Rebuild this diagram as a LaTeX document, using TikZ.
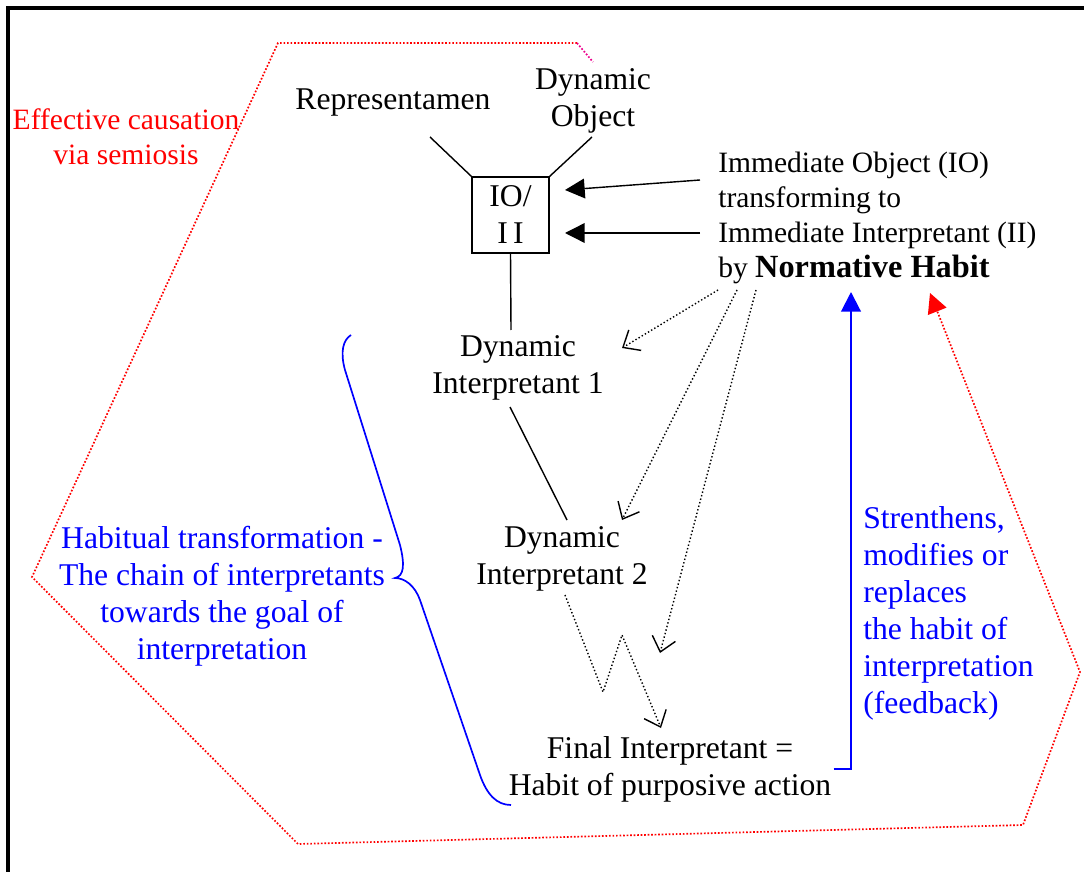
\documentclass[tikz,border=0pt]{standalone}
\usepackage{fontspec}
\setmainfont{Liberation Serif}
\usetikzlibrary{arrows.meta}

\begin{document}
\begin{tikzpicture}[x=0.025cm,y=-0.025cm,
  lbl/.style={align=center,inner sep=0pt,font=\fontsize{22.5}{26.3}\selectfont},
  small/.style={font=\fontsize{21}{25}\selectfont},
  conn/.style={line width=1pt},
  solidhead/.style={-{Triangle[length=14pt,width=14pt]}},
  openhead/.style={-{Straight Barb[length=10pt,width=17pt,line width=1pt]}},
  dots/.style={line width=1pt,dash pattern=on 1pt off 1.6pt},
  reddots/.style={red,line width=1.2pt,dash pattern=on 1.2pt off 1.3pt}]

\useasboundingbox (0,0) rectangle (1084,872);

% frame, only left and top show
\draw[line width=2.2pt] (8,872) -- (8,8) -- (1084,8);

\node[lbl,small,red] (effective) at (126,137) {Effective causation\\via semiosis};
\node[lbl] (repr) at (393,103) {Representamen};
\node[lbl] (dynobj) at (593,101) {Dynamic\\Object};
\node[lbl,draw,line width=1pt,minimum width=1.925cm,minimum height=1.9cm] (iobox) at (510.5,215) {IO/\\I\,I};
\node[lbl,small,align=left,anchor=west] (immediate) at (718,218) {Immediate Object (IO)\\transforming to\\Immediate Interpretant (II)\\by {\fontsize{23}{25}\selectfont\textbf{Normative Habit}}};
\node[lbl] (dyn1) at (518,368) {Dynamic\\Interpretant 1};
\node[lbl] (dyn2) at (562,559) {Dynamic\\Interpretant 2};
\node[lbl] (final) at (670,769) {Final Interpretant =\\Habit of purposive action};
\node[lbl,blue] (habitual) at (222,596) {Habitual transformation -\\The chain of interpretants\\towards the goal of\\interpretation};
\node[lbl,blue,align=left,anchor=west] (feedback) at (863,613) {Strenthens,\\modifies or\\replaces\\the habit of\\interpretation\\(feedback)};

% loose ends
\coordinate (reprfoot) at (430,137);
\coordinate (objfoot) at (592,137);
\coordinate (stemfoot) at (511,330);
\coordinate (ioout1) at (700,180);
\coordinate (ioin1) at (565,190);
\coordinate (ioout2) at (700,233);
\coordinate (ioin2) at (565,233);
\coordinate (dynlow) at (510,407);
\coordinate (dyntop) at (567,520);
\coordinate (habitA) at (718,290);
\coordinate (habitB) at (737,290);
\coordinate (habitC) at (756,290);
\coordinate (tipA) at (622,348);
\coordinate (tipB) at (622,520);
\coordinate (tipC) at (660,653);
\coordinate (zigstart) at (565,595);
\coordinate (zigtip) at (661,728);
\coordinate (normtip) at (851,292);
\coordinate (redtip) at (930,293);

\draw[conn] (iobox.north west) -- (reprfoot);
\draw[conn] (iobox.north east) -- (objfoot);
\draw[conn] (iobox.south) -- (stemfoot);
\draw[conn] (dynlow) -- (dyntop);

\draw[conn,solidhead] (ioout1) -- (ioin1);
\draw[conn,solidhead] (ioout2) -- (ioin2);

\draw[dots,openhead] (habitA) -- (tipA);
\draw[dots,openhead] (habitB) -- (tipB);
\draw[dots,openhead] (habitC) -- (tipC);
\draw[dots,openhead] (zigstart) -- (603,692) -- (622,635) -- (zigtip);

% feedback
\draw[blue,line width=1.5pt,solidhead] (final.east) ++(2,0) -| (normtip);

% the semiosis boundary
\draw[reddots,solidhead] (577,43) -- (278,43) -- (32,577) -- (298,844)
  -- (1023,825) -- (1080,672) -- (redtip);
\draw[magenta,line width=1.2pt,dash pattern=on 1.2pt off 1.3pt] (577,43) -- (593,62);

% brace
\draw[blue,line width=1.2pt] (351,335) .. controls (343,340) and (340,352) .. (345,370)
  -- (400,545) .. controls (405,565) and (404,576) .. (395,578)
  .. controls (405,578) and (415,586) .. (420,600)
  -- (480,775) .. controls (487,795) and (497,805) .. (511,805);

\end{tikzpicture}
\end{document}
